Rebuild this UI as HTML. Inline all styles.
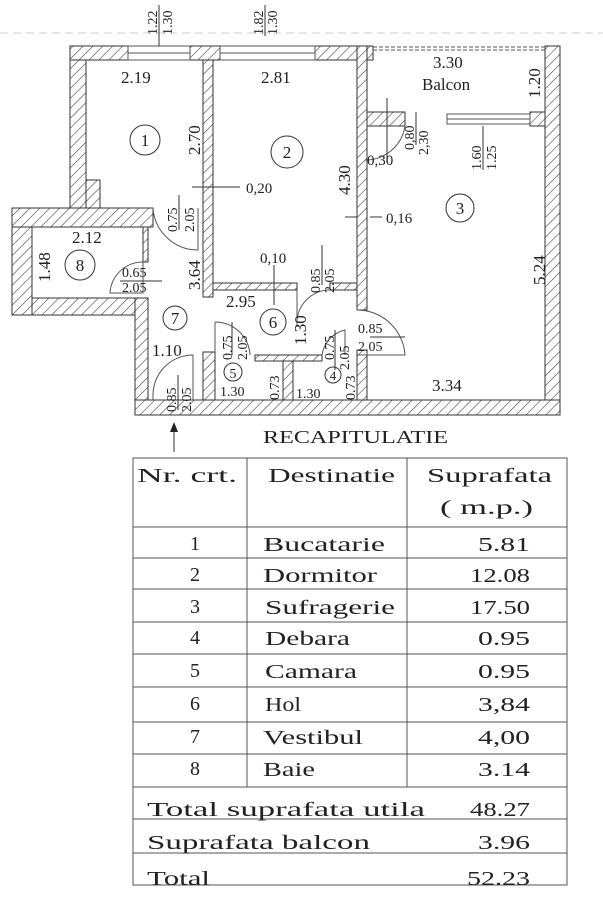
<!DOCTYPE html>
<html><head><meta charset="utf-8"><style>
html,body{margin:0;padding:0;background:#fff;width:603px;height:900px;overflow:hidden}
svg{display:block}
text{font-family:"Liberation Serif",serif;fill:#222}
</style></head><body>
<svg width="603" height="900" viewBox="0 0 603 900" xmlns="http://www.w3.org/2000/svg">
<defs>
<pattern id="h" width="7" height="7" patternUnits="userSpaceOnUse" patternTransform="rotate(45)">
<rect width="7" height="7" fill="#fff"/><line x1="0" y1="0" x2="0" y2="7" stroke="#444" stroke-width="1.2"/>
</pattern>
</defs>
<line x1="0" y1="33" x2="603" y2="33" stroke="#ccc" stroke-dasharray="8,5"/>
<g fill="url(#h)" stroke="#333" stroke-width="1">
<rect x="70" y="46" width="58" height="14"/>
<rect x="190" y="46" width="30" height="14"/>
<rect x="315" y="46" width="58" height="14"/>
<rect x="545" y="46" width="15" height="369"/>
<rect x="70" y="60" width="16" height="148"/>
<rect x="86" y="180" width="14" height="28"/>
<rect x="12" y="208" width="141" height="19"/>
<rect x="12" y="227" width="20" height="88"/>
<rect x="32" y="298" width="116" height="17"/>
<rect x="143" y="227" width="5" height="35"/>
<rect x="135" y="298" width="13" height="117"/>
<rect x="203" y="60" width="10" height="237"/>
<rect x="213" y="283" width="84" height="7"/>
<rect x="330" y="283" width="27" height="7"/>
<rect x="357" y="46" width="10" height="264"/>
<rect x="367" y="112" width="38" height="14"/>
<rect x="530" y="112" width="15" height="14"/>
<rect x="255" y="355" width="67" height="6"/>
<rect x="203" y="352" width="12" height="48"/>
<rect x="283" y="361" width="10" height="39"/>
<rect x="357" y="350" width="10" height="50"/>
<rect x="135" y="400" width="425" height="15"/>
</g>
<g stroke="#555" fill="none" stroke-width="1">
<rect x="128" y="46" width="62" height="14"/><line x1="128" y1="53" x2="190" y2="53"/>
<rect x="220" y="46" width="95" height="14"/><line x1="220" y1="53" x2="315" y2="53"/>
<line x1="373" y1="47" x2="545" y2="47" stroke-dasharray="4,2"/>
<line x1="373" y1="50" x2="545" y2="50" stroke-dasharray="4,2"/>
<rect x="447" y="114" width="83" height="10"/><line x1="447" y1="119" x2="530" y2="119"/>
<path d="M405 126 A40 40 0 0 1 365 160"/>
<path d="M153 208 A45 45 0 0 0 198 250 L198 208"/>
<path d="M143 262 L143 293 L110 293 A33 33 0 0 1 143 262"/>
<path d="M297 290 L297 325 M297 325 A33 33 0 0 1 330 290"/>
<path d="M357 310 A48 48 0 0 1 405 355 L357 355"/>
<path d="M215 322 A35 35 0 0 1 250 355 M215 322 L215 352"/>
<path d="M322 355 A30 30 0 0 1 345 330 L345 355"/>
<path d="M193 355 A40 40 0 0 0 153 395 L153 400 M193 355 L193 400"/>
</g>
<g stroke="#333" stroke-width="1" fill="none">
<line x1="159" y1="5" x2="159" y2="46"/><line x1="265" y1="5" x2="265" y2="36"/>
<line x1="192" y1="187" x2="240" y2="187"/>
<line x1="370" y1="217" x2="382" y2="217"/><line x1="345" y1="217" x2="357" y2="217"/>
<line x1="387" y1="98" x2="387" y2="160"/>
<line x1="416" y1="112" x2="416" y2="145"/>
<line x1="483" y1="126" x2="483" y2="170"/>
<line x1="179" y1="195" x2="179" y2="230"/>
<line x1="120" y1="281" x2="162" y2="281"/>
<line x1="274" y1="265" x2="274" y2="305"/>
<line x1="322" y1="245" x2="322" y2="285"/>
<line x1="178" y1="375" x2="178" y2="410"/>
<line x1="232" y1="322" x2="232" y2="355"/>
<line x1="335" y1="330" x2="335" y2="370"/>
<line x1="370" y1="337" x2="405" y2="337"/>
<line x1="174" y1="452" x2="174" y2="430"/>
</g>
<path d="M174 422 L170 432 L178 432 Z" fill="#222"/>
<g font-size="17">
<text x="121" y="83">2.19</text>
<text x="261" y="83">2.81</text>
<text x="433" y="68">3.30</text>
<text x="422" y="90">Balcon</text>
<text x="246" y="193" font-size="15">0,20</text>
<text x="386" y="223" font-size="15">0,16</text>
<text x="367" y="165" font-size="15">0,30</text>
<text x="72" y="243">2.12</text>
<text x="122" y="277" font-size="14">0.65</text>
<text x="122" y="292" font-size="14">2.05</text>
<text x="260" y="263" font-size="15">0,10</text>
<text x="226" y="307">2.95</text>
<text x="152" y="356">1.10</text>
<text x="220" y="396" font-size="14">1.30</text>
<text x="296" y="398" font-size="14">1.30</text>
<text x="358" y="333" font-size="14">0.85</text>
<text x="358" y="351" font-size="14">2.05</text>
<text x="432" y="391">3.34</text>
</g>
<g font-size="17">
<text transform="translate(157,35) rotate(-90)" font-size="14">1.22</text>
<text transform="translate(172,35) rotate(-90)" font-size="14">1.30</text>
<text transform="translate(263,35) rotate(-90)" font-size="14">1.82</text>
<text transform="translate(277,35) rotate(-90)" font-size="14">1.30</text>
<text transform="translate(200,155) rotate(-90)">2.70</text>
<text transform="translate(350,195) rotate(-90)">4.30</text>
<text transform="translate(540,98) rotate(-90)">1.20</text>
<text transform="translate(545,285) rotate(-90)">5.24</text>
<text transform="translate(414,150) rotate(-90)" font-size="14">0,80</text>
<text transform="translate(428,155) rotate(-90)" font-size="14">2,30</text>
<text transform="translate(481,170) rotate(-90)" font-size="14">1.60</text>
<text transform="translate(496,170) rotate(-90)" font-size="14">1.25</text>
<text transform="translate(177,232) rotate(-90)" font-size="14">0.75</text>
<text transform="translate(194,232) rotate(-90)" font-size="14">2.05</text>
<text transform="translate(50,282) rotate(-90)">1.48</text>
<text transform="translate(200,290) rotate(-90)">3.64</text>
<text transform="translate(320,293) rotate(-90)" font-size="14">0.85</text>
<text transform="translate(334,293) rotate(-90)" font-size="14">2.05</text>
<text transform="translate(306,345) rotate(-90)">1.30</text>
<text transform="translate(176,412) rotate(-90)" font-size="14">0.85</text>
<text transform="translate(191,412) rotate(-90)" font-size="14">2.05</text>
<text transform="translate(232,360) rotate(-90)" font-size="14">0.75</text>
<text transform="translate(247,360) rotate(-90)" font-size="14">2.05</text>
<text transform="translate(279,400) rotate(-90)" font-size="14">0.73</text>
<text transform="translate(334,360) rotate(-90)" font-size="14">0.75</text>
<text transform="translate(349,370) rotate(-90)" font-size="14">2.05</text>
<text transform="translate(355,400) rotate(-90)" font-size="14">0.73</text>
</g>
<g fill="none" stroke="#333">
<circle cx="145" cy="140" r="15"/><circle cx="287" cy="152" r="16"/><circle cx="460" cy="208" r="14"/>
<circle cx="80" cy="265" r="15"/><circle cx="175" cy="318" r="12"/><circle cx="273" cy="322" r="13"/>
<circle cx="233" cy="372" r="9"/><circle cx="333" cy="375" r="8"/>
</g>
<g font-size="17" text-anchor="middle">
<text x="145" y="146">1</text><text x="287" y="158">2</text><text x="460" y="214">3</text>
<text x="80" y="271">8</text><text x="175" y="324">7</text><text x="273" y="328">6</text>
<text x="233" y="378" font-size="14">5</text><text x="333" y="380" font-size="13">4</text>
</g>
<text x="263" y="443" font-size="18" textLength="185" lengthAdjust="spacingAndGlyphs">RECAPITULATIE</text>
<g stroke="#555" stroke-width="1" fill="none">
<rect x="133" y="458" width="434" height="427"/>
<line x1="247" y1="458" x2="247" y2="787"/><line x1="407" y1="458" x2="407" y2="787"/>
<line x1="133" y1="527" x2="567" y2="527"/><line x1="133" y1="558" x2="567" y2="558"/>
<line x1="133" y1="589" x2="567" y2="589"/><line x1="133" y1="622" x2="567" y2="622"/>
<line x1="133" y1="654" x2="567" y2="654"/><line x1="133" y1="687" x2="567" y2="687"/>
<line x1="133" y1="722" x2="567" y2="722"/><line x1="133" y1="754" x2="567" y2="754"/>
<line x1="133" y1="787" x2="567" y2="787"/><line x1="133" y1="819" x2="567" y2="819"/>
<line x1="133" y1="853" x2="567" y2="853"/>
</g>
<g font-size="20">
<text x="137" y="482" textLength="100" lengthAdjust="spacingAndGlyphs">Nr. crt.</text>
<text x="268" y="482" textLength="127" lengthAdjust="spacingAndGlyphs">Destinatie</text>
<text x="427" y="482" textLength="125" lengthAdjust="spacingAndGlyphs">Suprafata</text>
<text x="440" y="514" textLength="93" lengthAdjust="spacingAndGlyphs">( m.p.)</text>
<g text-anchor="middle">
<text x="195" y="550">1</text><text x="195" y="581">2</text><text x="195" y="613">3</text><text x="195" y="644">4</text>
<text x="195" y="677">5</text><text x="195" y="710">6</text><text x="195" y="743">7</text><text x="195" y="775">8</text>
</g>
<text x="263" y="551" textLength="122" lengthAdjust="spacingAndGlyphs">Bucatarie</text>
<text x="263" y="582" textLength="114" lengthAdjust="spacingAndGlyphs">Dormitor</text>
<text x="265" y="614" textLength="130" lengthAdjust="spacingAndGlyphs">Sufragerie</text>
<text x="265" y="645" textLength="85" lengthAdjust="spacingAndGlyphs">Debara</text>
<text x="265" y="678" textLength="92" lengthAdjust="spacingAndGlyphs">Camara</text>
<text x="265" y="711" textLength="36" lengthAdjust="spacingAndGlyphs">Hol</text>
<text x="263" y="744" textLength="100" lengthAdjust="spacingAndGlyphs">Vestibul</text>
<text x="263" y="776" textLength="52" lengthAdjust="spacingAndGlyphs">Baie</text>
<text x="478" y="551" textLength="52" lengthAdjust="spacingAndGlyphs">5.81</text>
<text x="470" y="582" textLength="60" lengthAdjust="spacingAndGlyphs">12.08</text>
<text x="470" y="614" textLength="60" lengthAdjust="spacingAndGlyphs">17.50</text>
<text x="478" y="645" textLength="52" lengthAdjust="spacingAndGlyphs">0.95</text>
<text x="478" y="678" textLength="52" lengthAdjust="spacingAndGlyphs">0.95</text>
<text x="478" y="711" textLength="52" lengthAdjust="spacingAndGlyphs">3,84</text>
<text x="478" y="744" textLength="52" lengthAdjust="spacingAndGlyphs">4,00</text>
<text x="478" y="776" textLength="52" lengthAdjust="spacingAndGlyphs">3.14</text>
<text x="147" y="816" textLength="278" lengthAdjust="spacingAndGlyphs">Total suprafata utila</text>
<text x="470" y="816" textLength="60" lengthAdjust="spacingAndGlyphs">48.27</text>
<text x="147" y="849" textLength="223" lengthAdjust="spacingAndGlyphs">Suprafata balcon</text>
<text x="478" y="849" textLength="52" lengthAdjust="spacingAndGlyphs">3.96</text>
<text x="147" y="885" textLength="63" lengthAdjust="spacingAndGlyphs">Total</text>
<text x="467" y="885" textLength="63" lengthAdjust="spacingAndGlyphs">52.23</text>
</g>
</svg>
</body></html>
